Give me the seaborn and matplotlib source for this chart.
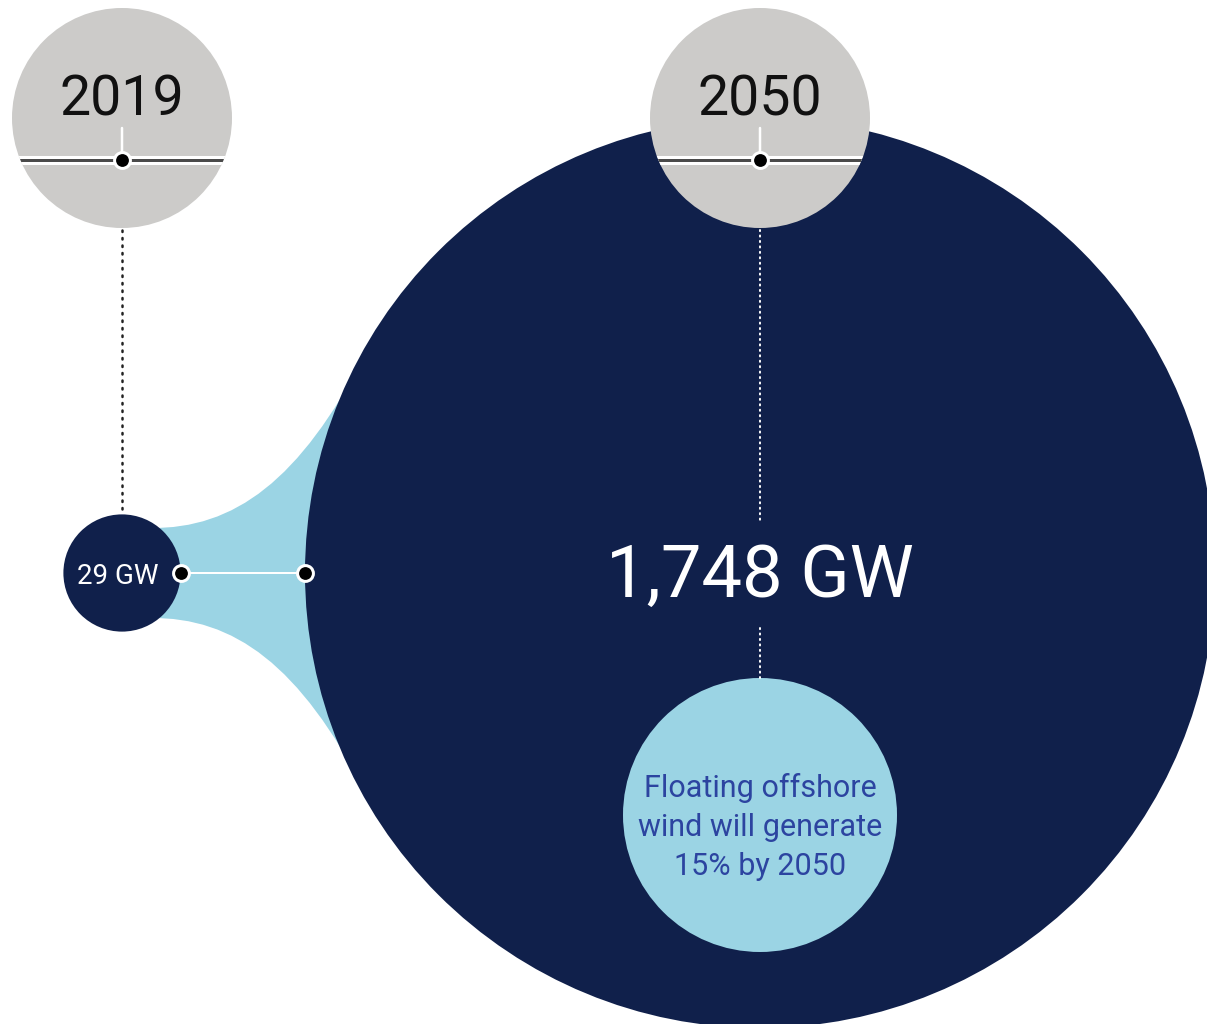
import numpy as np
import pandas as pd
import matplotlib
matplotlib.use("Agg")
import matplotlib.pyplot as plt
import seaborn as sns
from matplotlib.patches import Circle, PathPatch
from matplotlib.path import Path

# ---- data ----
years = ["2019", "2050"]
capacity_gw = [29, 1748]
capacity_labels = ["29 GW", "1,748 GW"]
floating_text = "Floating offshore\nwind will generate\n15% by 2050"

# ---- style ----
sns.set_theme(style="white")
plt.rcParams["font.family"] = ["Roboto", "DejaVu Sans"]

NAVY = "#10204b"
LIGHT = "#9bd4e4"
GRAY = "#cccbc9"
TXTBLUE = "#2c44a0"

W, H = 1207, 1024
fig = plt.figure(figsize=(W / 100, H / 100), dpi=100)
ax = fig.add_axes([0, 0, 1, 1])
ax.set_xlim(0, W)
ax.set_ylim(H, 0)
ax.axis("off")

PX = 0.72  # points per pixel

# positions (layout)
cx = [122, 760]
cy = 573
k = 455 / np.sqrt(capacity_gw[1])
radii = [k * np.sqrt(v) for v in capacity_gw]
year_y = 118
year_r = 110

# light blue flare connecting the two circles
top = [(cx[0] + 28, cy - 45), (cx[0] + 113, cy - 44), (cx[0] + 178, cy - 93), (cx[0] + 243, cy - 218)]
bot = [(x, 2 * cy - y) for (x, y) in top]
verts = [top[0], top[1], top[2], top[3],
         (cx[1] - 200, cy - 200), (cx[1] - 200, cy + 200),
         bot[3], bot[2], bot[1], bot[0], top[0]]
codes = [Path.MOVETO, Path.CURVE4, Path.CURVE4, Path.CURVE4,
         Path.LINETO, Path.LINETO, Path.LINETO,
         Path.CURVE4, Path.CURVE4, Path.CURVE4, Path.CLOSEPOLY]
ax.add_patch(PathPatch(Path(verts, codes), facecolor=LIGHT, edgecolor="none", zorder=1))

# capacity circles
for x, r in zip(cx, radii):
    ax.add_patch(Circle((x, cy), r, facecolor=NAVY, edgecolor="none", zorder=2))

# floating circle
fl_c = (cx[1], 815)
fl_r = 137
ax.add_patch(Circle(fl_c, fl_r, facecolor=LIGHT, edgecolor="none", zorder=3))
ax.text(fl_c[0], fl_c[1] + 12, floating_text, ha="center", va="center",
        color=TXTBLUE, fontsize=22, linespacing=1.42, zorder=4)

# dotted guide lines
ax.plot([cx[0], cx[0]], [year_y + year_r + 2, cy - radii[0] - 4], color="#222222",
        lw=1.8, ls=(0, (0.6, 2.4)), dash_capstyle="round", zorder=2)
ax.plot([cx[1], cx[1]], [year_y + year_r + 2, 520], color="white",
        lw=1.4, ls=(0, (0.6, 2.2)), dash_capstyle="round", zorder=3)
ax.plot([cx[1], cx[1]], [628, fl_c[1] - fl_r], color="white",
        lw=1.4, ls=(0, (0.6, 2.2)), dash_capstyle="round", zorder=3)

# year circles
line_y = 160
for x, yr in zip(cx, years):
    c = Circle((x, year_y), year_r, facecolor=GRAY, edgecolor="none", zorder=5)
    ax.add_patch(c)
    l1, = ax.plot([x - year_r, x + year_r], [line_y, line_y], color="white",
                  lw=9 * PX, solid_capstyle="butt", zorder=6)
    l2, = ax.plot([x - year_r, x + year_r], [line_y, line_y], color="#4a4a4a",
                  lw=3 * PX, solid_capstyle="butt", zorder=7)
    l1.set_clip_path(c)
    l2.set_clip_path(c)
    ax.plot([x, x], [128, line_y], color="white", lw=2.5 * PX, zorder=7)
    ax.text(x, 94, yr, ha="center", va="center_baseline", fontsize=40,
            fontweight="normal", color="#111111", zorder=8)

# capacity labels
ax.text(cx[0] - 4, cy + 1, capacity_labels[0], ha="center", va="center_baseline",
        fontsize=20, color="white", zorder=6)
ax.text(cx[1], cy - 3, capacity_labels[1], ha="center", va="center_baseline",
        fontsize=52, color="white", zorder=6)

# connector between circles
conn_x = [cx[0] + radii[0], cx[1] - radii[1]]
ax.plot(conn_x, [cy, cy], color="white", lw=2 * PX, zorder=6)
dots = pd.DataFrame({"x": conn_x + cx, "y": [cy, cy, line_y, line_y]})
sns.scatterplot(data=dots, x="x", y="y", ax=ax, s=130, color="black",
                edgecolor="white", linewidth=3 * PX, zorder=9, legend=False)
ax.set_xlim(0, W)
ax.set_ylim(H, 0)
ax.axis("off")

fig.savefig("out.png", dpi=100, facecolor="white")
